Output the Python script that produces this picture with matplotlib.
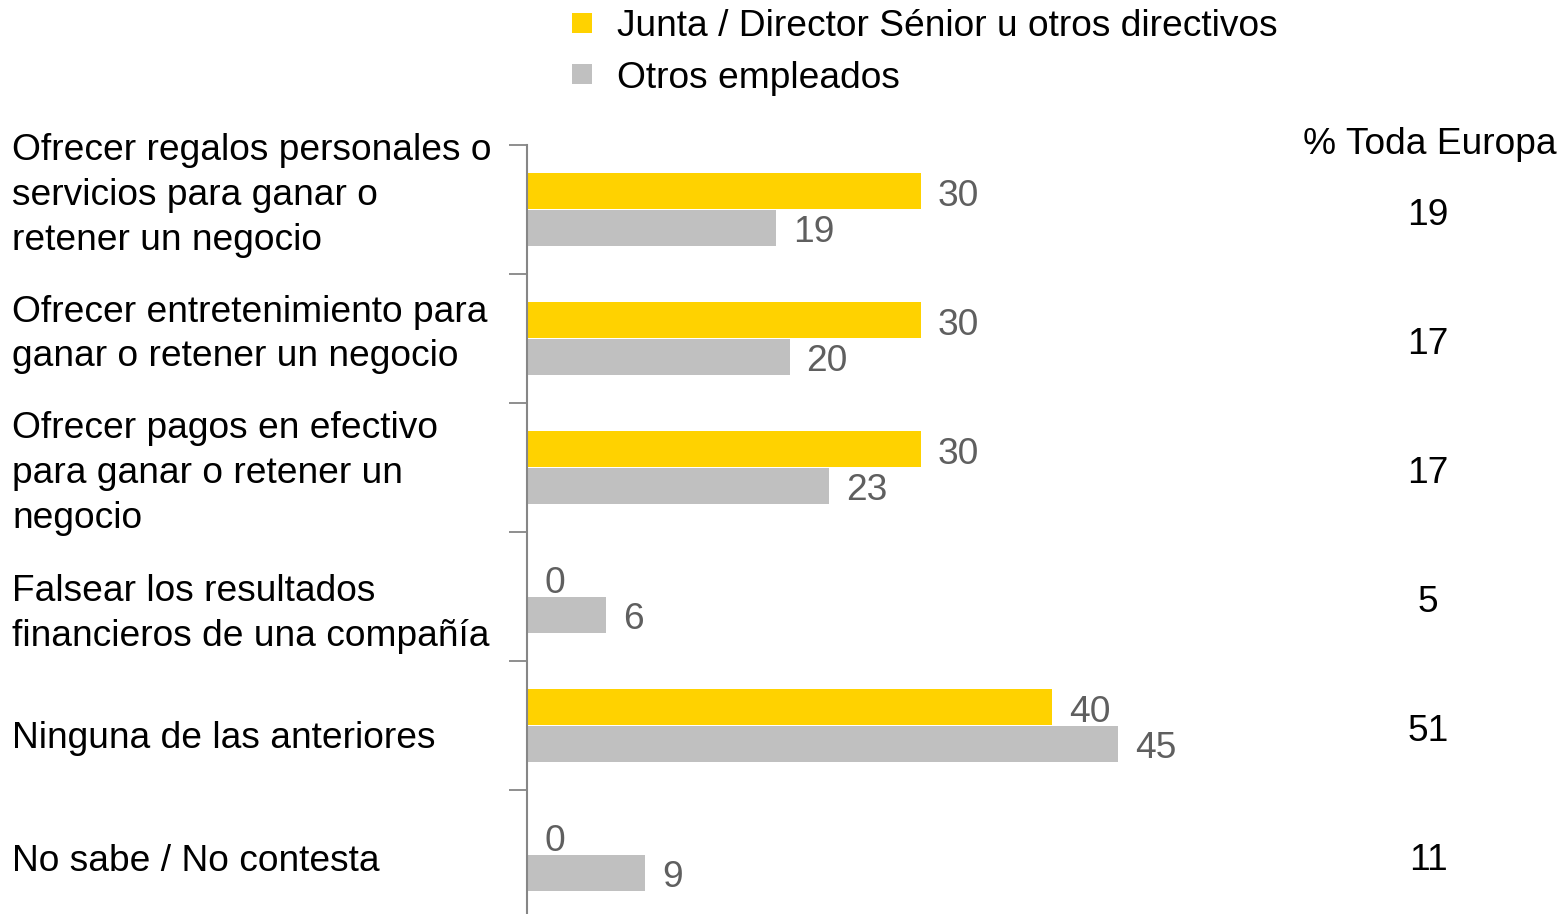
import matplotlib
matplotlib.use("Agg")
import matplotlib.pyplot as plt
from matplotlib.patches import Rectangle
from matplotlib.transforms import blended_transform_factory

plt.rcParams['font.family'] = ['Liberation Sans', 'DejaVu Sans']

categories = [
    "Ofrecer regalos personales o\nservicios para ganar o\nretener un negocio",
    "Ofrecer entretenimiento para\nganar o retener un negocio",
    "Ofrecer pagos en efectivo\npara ganar o retener un\nnegocio",
    "Falsear los resultados\nfinancieros de una compañía",
    "Ninguna de las anteriores",
    "No sabe / No contesta",
]
junta = [30, 30, 30, 0, 40, 0]
otros = [19, 20, 23, 6, 45, 9]
europa = [19, 17, 17, 5, 51, 11]
series_names = ["Junta / Director Sénior u otros directivos", "Otros empleados"]

YELLOW = "#FFD200"
GREY = "#C0C0C0"
LABEL_GREY = "#5F5F5F"
AXIS_GREY = "#868686"

W, H = 1560, 914
FS = 26.7
fig = plt.figure(figsize=(W / 100, H / 100), dpi=100)
# axes: left edge at x=527px, category band from y=145px to y=919px
ax = fig.add_axes([527 / W, (H - 919) / H, (W - 527) / W, 774 / H])
ax.set_xlim(0, (W - 527) / 13.13)
ax.set_ylim(5.5, -0.5)

pos = list(range(len(categories)))
bh = 0.28
off = 0.143
ax.barh([p - off for p in pos], junta, height=bh, color=YELLOW)
ax.barh([p + off for p in pos], otros, height=bh, color=GREY)

for p, a, b in zip(pos, junta, otros):
    ax.annotate(str(a), (a, p - off), xytext=(17, -5), textcoords="offset pixels",
                va="center", ha="left", fontsize=FS, color=LABEL_GREY)
    ax.annotate(str(b), (b, p + off), xytext=(17, -5), textcoords="offset pixels",
                va="center", ha="left", fontsize=FS, color=LABEL_GREY)

# category labels on the left
lab_nudge = [-0.11, -0.03, 0.045, 0.135, 0.1, 0.055]
tr = blended_transform_factory(fig.transFigure, ax.transData)
for p, c, n in zip(pos, categories, lab_nudge):
    ax.text(12 / W, p + n, c, transform=tr, ha="left", va="center",
            fontsize=FS, color="black", linespacing=1.36)

# % Toda Europa column
for p, v in zip(pos, europa):
    ax.text(1428 / W, p + 0.045, str(v), transform=tr, ha="center", va="center",
            fontsize=FS, color="black")
fig.text(1430 / W, 1 - 145 / H, "% Toda Europa", ha="center", va="center",
         fontsize=FS, color="black")

# axis styling
for s in ["top", "right", "bottom"]:
    ax.spines[s].set_visible(False)
ax.spines["left"].set_color(AXIS_GREY)
ax.spines["left"].set_linewidth(1.5)
ax.set_xticks([])
ax.set_yticks([p - 0.5 for p in pos])
ax.set_yticklabels([])
ax.tick_params(axis="y", length=13, width=1.3, color=AXIS_GREY, direction="out")

# legend drawn by hand: small squares with labels
for i, (name, col) in enumerate(zip(series_names, [YELLOW, GREY])):
    yc = 23 + 51 * i
    fig.add_artist(Rectangle((572 / W, 1 - (yc + 10) / H), 20 / W, 20 / H,
                             transform=fig.transFigure, facecolor=col, edgecolor="none"))
    fig.text(617 / W, 1 - (yc + 4) / H, name, ha="left", va="center", fontsize=FS, color="black")

fig.savefig("out.png", dpi=100)
